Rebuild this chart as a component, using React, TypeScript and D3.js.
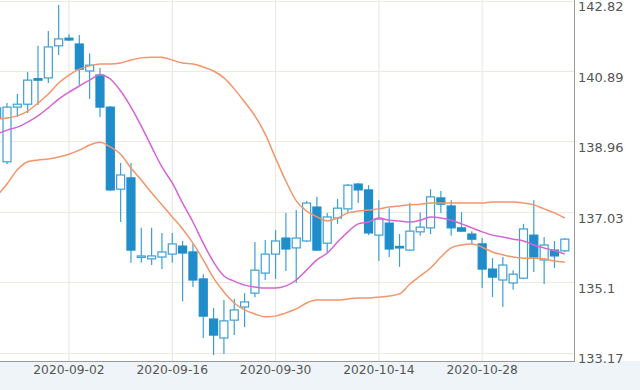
import React from 'react';
import * as d3 from 'd3';

const dates = [
  '2020-08-24','2020-08-25','2020-08-26','2020-08-27','2020-08-28',
  '2020-08-31','2020-09-01','2020-09-02','2020-09-03','2020-09-04',
  '2020-09-07','2020-09-08','2020-09-09','2020-09-10','2020-09-11',
  '2020-09-14','2020-09-15','2020-09-16','2020-09-17','2020-09-18',
  '2020-09-21','2020-09-22','2020-09-23','2020-09-24','2020-09-25',
  '2020-09-28','2020-09-29','2020-09-30','2020-10-01','2020-10-02',
  '2020-10-05','2020-10-06','2020-10-07','2020-10-08','2020-10-09',
  '2020-10-12','2020-10-13','2020-10-14','2020-10-15','2020-10-16',
  '2020-10-19','2020-10-20','2020-10-21','2020-10-22','2020-10-23',
  '2020-10-26','2020-10-27','2020-10-28','2020-10-29','2020-10-30',
  '2020-11-02','2020-11-03','2020-11-04','2020-11-05','2020-11-06',
  '2020-11-09'
];

const open = [
  139.60,138.40,139.90,139.98,140.68,140.70,141.58,141.79,141.63,140.89,
  140.78,139.90,137.65,137.96,135.80,135.74,135.79,135.87,136.09,135.93,
  135.19,134.09,133.57,134.06,134.42,134.80,135.35,135.87,136.31,136.04,
  136.23,137.16,136.17,136.86,137.11,137.79,137.63,136.39,136.72,136.08,
  135.98,136.48,136.59,137.41,137.19,136.59,136.42,136.15,135.46,135.16,
  135.08,135.21,136.39,135.71,135.98,135.96
];
const high = [
  140.09,140.01,140.26,140.86,141.58,141.99,142.70,141.90,141.88,141.38,
  140.97,139.93,138.37,138.37,136.59,136.59,136.45,136.45,136.23,136.15,
  135.32,134.39,134.61,134.64,134.80,136.20,136.26,136.53,137.00,137.08,
  137.33,137.44,137.00,137.38,137.79,137.82,137.76,137.35,137.13,136.42,
  137.27,137.02,137.65,137.60,137.35,137.02,136.50,136.31,135.76,135.79,
  135.43,136.70,137.35,136.34,136.23,136.31
];
const low = [
  139.41,138.34,139.63,139.74,139.96,140.56,141.33,141.71,140.51,140.12,
  139.63,137.60,136.75,135.63,135.63,135.57,135.46,135.63,134.58,134.97,
  133.57,133.10,133.13,133.65,133.87,134.69,135.16,135.19,135.41,135.08,
  136.20,135.96,135.90,136.70,137.02,137.27,136.39,135.68,135.79,135.52,
  135.96,136.37,136.42,137.00,136.37,136.48,136.15,134.94,134.69,134.42,
  134.89,135.19,135.38,135.05,135.49,135.93
];
const close = [
  139.88,139.90,139.98,140.64,140.66,141.55,141.77,141.74,140.94,141.05,
  139.90,137.63,138.04,135.98,135.82,135.82,135.93,136.15,135.90,135.16,
  134.17,133.65,134.04,134.34,134.56,135.43,135.87,136.23,136.01,136.31,
  137.27,135.98,136.89,137.13,137.76,137.63,136.45,136.83,136.01,136.05,
  136.50,136.61,137.44,137.24,136.59,136.50,136.28,135.46,135.24,135.57,
  135.32,136.56,135.79,136.12,135.82,136.28
];

const upperBand = [
  139.57,139.60,139.66,139.79,140.01,140.26,140.56,140.78,140.94,141.03,
  141.08,141.08,141.11,141.19,141.25,141.27,141.27,141.19,141.11,141.08,
  141.00,140.89,140.70,140.40,140.04,139.66,139.16,138.50,137.87,137.33,
  137.05,136.89,136.78,136.86,137.00,137.05,137.08,137.11,137.16,137.19,
  137.22,137.24,137.27,137.27,137.27,137.27,137.27,137.27,137.30,137.30,
  137.30,137.27,137.22,137.11,137.00,136.86
];
const middleBand = [
  139.16,139.27,139.35,139.49,139.66,139.88,140.12,140.31,140.48,140.64,
  140.78,140.67,140.34,139.90,139.38,138.81,138.26,137.82,137.27,136.75,
  136.17,135.65,135.27,135.13,135.02,134.97,134.94,134.94,135.00,135.16,
  135.43,135.71,135.90,136.20,136.48,136.70,136.75,136.86,136.80,136.78,
  136.75,136.80,136.89,136.86,136.80,136.70,136.59,136.48,136.39,136.34,
  136.28,136.23,136.12,136.04,135.96,135.87
];
const lowerBand = [
  137.46,137.79,138.18,138.40,138.45,138.48,138.53,138.61,138.72,138.86,
  138.94,138.81,138.61,138.23,137.90,137.55,137.22,136.89,136.56,136.17,
  135.71,135.21,134.83,134.53,134.34,134.23,134.15,134.17,134.26,134.37,
  134.53,134.61,134.61,134.61,134.64,134.67,134.67,134.69,134.72,134.78,
  135.05,135.27,135.49,135.79,136.04,136.12,136.15,136.06,135.93,135.85,
  135.79,135.76,135.76,135.74,135.68,135.65
];

const yTicks = [133.17, 135.1, 137.03, 138.96, 140.89, 142.82];
const yTickLabels = ['133.17', '135.1', '137.03', '138.96', '140.89', '142.82'];
const xTickLabels = ['2020-09-02', '2020-09-16', '2020-09-30', '2020-10-14', '2020-10-28'];

const W = 640;
const H = 390;
const PW = 574;
const PH = 361;

export default function App() {
  React.useEffect(() => {
    document.body.style.margin = '0';
  }, []);

  const x = d3.scaleLinear().domain([0.322, 55.89]).range([0, PW]);
  const y = d3.scaleLinear().domain([133.17, 142.82]).range([352.6, 0.6]);

  const line = d3.line<number>()
    .x((_, i) => x(i))
    .y((d) => y(d))
    .curve(d3.curveMonotoneX);

  const bodyW = 8;
  const upColor = '#3d9fd6';
  const downFill = '#1f8dca';
  const orange = '#f4956a';
  const magenta = '#d664d6';
  const grid = '#ebeae0';

  return (
    <svg width={W} height={H} style={{ position: 'absolute', left: 0, top: 0, fontFamily: 'DejaVu Sans' }}>
      <defs>
        <clipPath id="plot">
          <rect x={0} y={0} width={PW} height={PH} />
        </clipPath>
      </defs>
      <rect x={0} y={0} width={W} height={H} fill="#ffffff" />
      <rect x={0} y={PH} width={W} height={H - PH} fill="#eef4f7" />
      {yTicks.map((t) => (
        <line key={'gy' + t} x1={0} x2={PW} y1={Math.round(y(t)) + 0.5} y2={Math.round(y(t)) + 0.5} stroke={grid} strokeWidth={1.2} />
      ))}
      {xTickLabels.map((d) => {
        const xi = x(dates.indexOf(d));
        return <line key={'gx' + d} x1={xi} x2={xi} y1={0} y2={PH} stroke={grid} strokeWidth={1.2} />;
      })}
      <g clipPath="url(#plot)">
        {dates.map((d, i) => {
          const o = open[i], c = close[i], h = high[i], l = low[i];
          const up = c >= o;
          const cx = x(i);
          const top = y(Math.max(o, c));
          const bot = y(Math.min(o, c));
          const bh = Math.max(bot - top, 1.5);
          return (
            <g key={d}>
              <line x1={cx} x2={cx} y1={y(h)} y2={y(l)} stroke={upColor} strokeWidth={1.2} />
              <rect
                x={cx - bodyW / 2}
                y={top}
                width={bodyW}
                height={bh}
                fill={up ? '#ffffff' : downFill}
                stroke={up ? upColor : downFill}
                strokeWidth={1.2}
              />
            </g>
          );
        })}
        <path d={line(upperBand) || ''} fill="none" stroke={orange} strokeWidth={1.5} />
        <path d={line(lowerBand) || ''} fill="none" stroke={orange} strokeWidth={1.5} />
        <path d={line(middleBand) || ''} fill="none" stroke={magenta} strokeWidth={1.5} />
      </g>
      <line x1={PW + 0.5} x2={PW + 0.5} y1={0} y2={PH + 1} stroke="#9a9a9a" strokeWidth={1} />
      <line x1={0} x2={PW + 1} y1={PH + 0.5} y2={PH + 0.5} stroke="#9a9a9a" strokeWidth={1} />
      {yTicks.map((t, i) => (
        <text key={'ty' + t} x={PW + 4} y={y(t) + 10.7} fontSize={13} fill="#555">
          {yTickLabels[i]}
        </text>
      ))}
      {xTickLabels.map((d) => (
        <text key={'tx' + d} x={x(dates.indexOf(d))} y={374} fontSize={12.3} fill="#555" textAnchor="middle">
          {d}
        </text>
      ))}
    </svg>
  );
}
